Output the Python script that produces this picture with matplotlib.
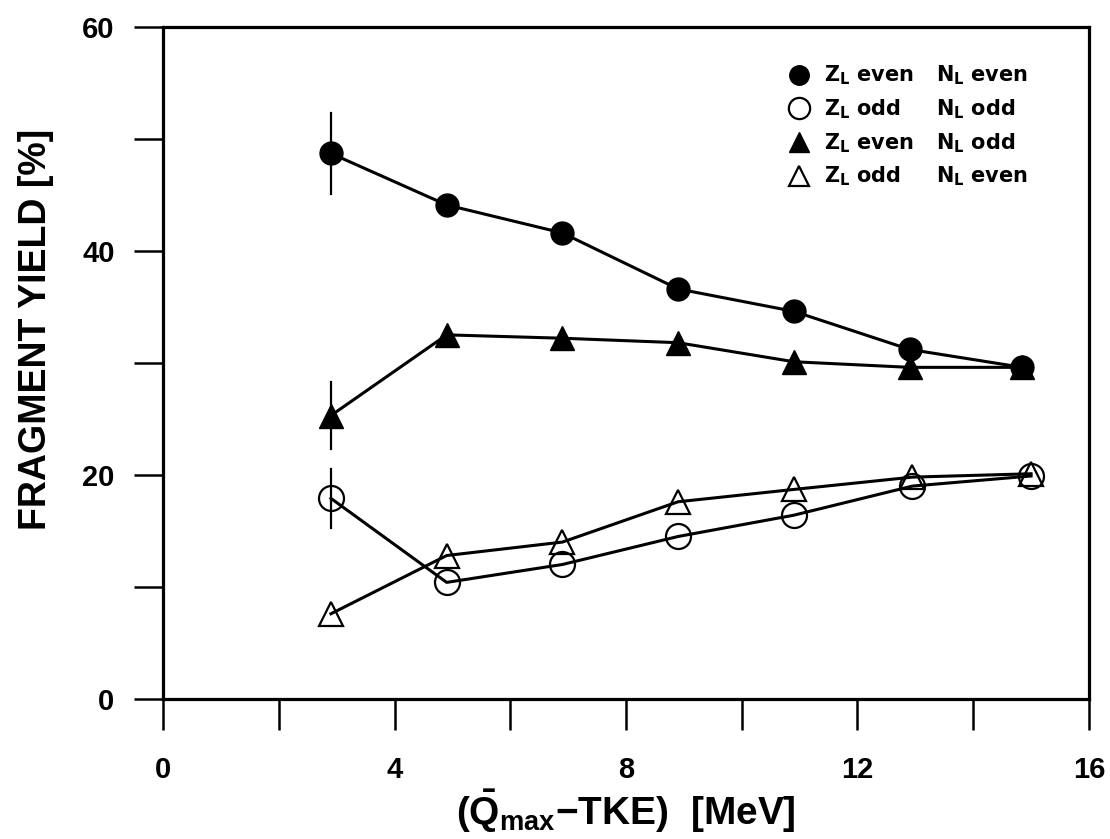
import matplotlib
matplotlib.use("Agg")
import matplotlib.pyplot as plt
from matplotlib.ticker import MultipleLocator, FixedLocator
from matplotlib.lines import Line2D

plt.rcParams['font.family'] = ['DejaVu Sans']
plt.rcParams['font.weight'] = 'bold'
plt.rcParams['mathtext.fontset'] = 'custom'
plt.rcParams['mathtext.rm'] = 'Liberation Sans:bold'
plt.rcParams['mathtext.bf'] = 'Liberation Sans:bold'
plt.rcParams['mathtext.default'] = 'bf'

# data
x_filled = [2.9, 4.9, 6.9, 8.9, 10.9, 12.9, 14.85]
x_open = [2.9, 4.9, 6.9, 8.9, 10.9, 12.95, 15.0]
zeven_neven = [48.7, 44.1, 41.6, 36.6, 34.6, 31.2, 29.6]
zodd_nodd = [17.9, 10.4, 12.0, 14.5, 16.4, 19.0, 19.9]
zeven_nodd = [25.3, 32.5, 32.2, 31.8, 30.1, 29.6, 29.6]
zodd_neven = [7.6, 12.8, 14.0, 17.6, 18.7, 19.8, 20.1]
err_x = 2.9
err_zeven_neven = 3.6
err_zeven_nodd = 3.0
err_zodd_nodd = 2.6

z_labels = [r'Z$_\mathregular{L}$ even', r'Z$_\mathregular{L}$ odd',
            r'Z$_\mathregular{L}$ even', r'Z$_\mathregular{L}$ odd']
n_labels = [r'N$_\mathregular{L}$ even', r'N$_\mathregular{L}$ odd',
            r'N$_\mathregular{L}$ odd', r'N$_\mathregular{L}$ even']

fig = plt.figure(figsize=(11.10, 8.39), dpi=100)
ax = fig.add_axes([0.147, 0.167, 0.834, 0.801])

lw = 2.2
# error bars
ax.plot([err_x, err_x], [zeven_neven[0]-err_zeven_neven, zeven_neven[0]+err_zeven_neven], color='k', lw=1.6, zorder=2)
ax.plot([err_x, err_x], [zeven_nodd[0]-err_zeven_nodd, zeven_nodd[0]+err_zeven_nodd], color='k', lw=1.6, zorder=2)
ax.plot([err_x, err_x], [zodd_nodd[0]-err_zodd_nodd, zodd_nodd[0]+err_zodd_nodd], color='k', lw=1.6, zorder=2)

ax.plot(x_filled, zeven_neven, '-', color='k', lw=lw, zorder=3)
ax.plot(x_open, zodd_nodd, '-', color='k', lw=lw, zorder=3)
ax.plot(x_filled, zeven_nodd, '-', color='k', lw=lw, zorder=3)
ax.plot(x_open, zodd_neven, '-', color='k', lw=lw, zorder=3)

h1, = ax.plot(x_filled, zeven_neven, 'o', color='k', ms=16.5, ls='none', zorder=4)
h2, = ax.plot(x_open, zodd_nodd, 'o', mfc='none', mec='k', mew=1.6, ms=18, ls='none', zorder=4)
h3, = ax.plot(x_filled, zeven_nodd, '^', color='k', ms=17, ls='none', zorder=4)
h4, = ax.plot(x_open, zodd_neven, '^', mfc='none', mec='k', mew=1.6, ms=17, ls='none', zorder=4)

ax.set_xlim(0, 16)
ax.set_ylim(0, 60)
ax.xaxis.set_major_locator(MultipleLocator(4))
ax.xaxis.set_minor_locator(FixedLocator([2, 6, 10, 14]))
ax.yaxis.set_major_locator(MultipleLocator(20))
ax.yaxis.set_minor_locator(FixedLocator([10, 30, 50]))

for s in ax.spines.values():
    s.set_linewidth(2.3)
ax.tick_params(axis='x', which='both', direction='out', length=22, width=1.8, pad=19,
               labelsize=21, labelfontfamily='Liberation Sans')
ax.tick_params(axis='y', which='both', direction='out', length=21, width=1.8, pad=14,
               labelsize=21, labelfontfamily='Liberation Sans')

ax.set_ylabel('FRAGMENT YIELD [%]', fontsize=27, fontweight='bold', family='Liberation Sans')
ax.yaxis.set_label_coords(-0.118, 0.55)
ax.set_xlabel('($\\bar{\\mathregular{Q}}_{\\mathregular{max}}$\u2212TKE)  [MeV]', fontsize=28,
              fontweight='bold', family='Liberation Sans')
ax.xaxis.set_label_coords(0.5, -0.132)

leg_kw = dict(frameon=False, prop={'size': 15, 'weight': 'bold'}, labelspacing=0.5,
              borderaxespad=0, borderpad=0)
leg1 = ax.legend([h1, h2, h3, h4], z_labels, loc='upper left', bbox_to_anchor=(0.676, 0.945),
                 handlelength=1.0, handletextpad=0.7, markerscale=0.85, **leg_kw)
ax.add_artist(leg1)
blank = [Line2D([], [], ls='none') for _ in n_labels]
leg2 = ax.legend(blank, n_labels, loc='upper left', bbox_to_anchor=(0.835, 0.945),
                 handlelength=0, handletextpad=0, **leg_kw)

fig.savefig('out.png', dpi=100)
